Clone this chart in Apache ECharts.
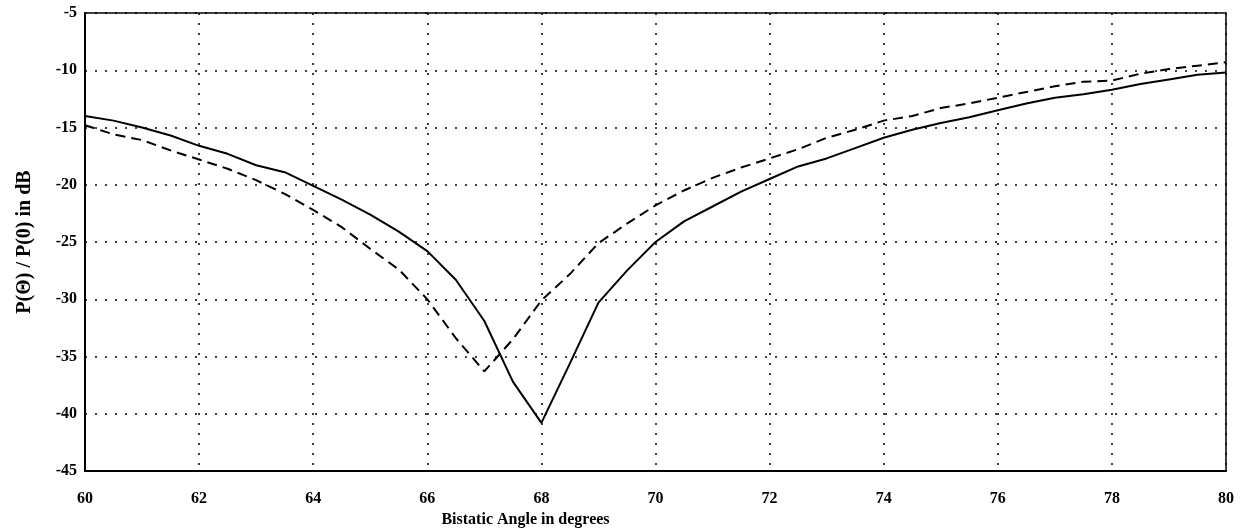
<!DOCTYPE html>
<html>
<head>
<meta charset="utf-8">
<script src="https://cdn.jsdelivr.net/npm/echarts@6/dist/echarts.min.js"></script>
<style>
html,body{margin:0;padding:0;background:#fff;}
#container{width:1245px;height:530px;}
</style>
</head>
<body>
<div id="container"></div>
<script type="text/javascript">
// bistatic angle samples (degrees)
var angles = [60, 60.5, 61, 61.5, 62, 62.5, 63, 63.5, 64, 64.5, 65, 65.5, 66, 66.5, 67, 67.5, 68, 68.5, 69, 69.5,
	70, 70.5, 71, 71.5, 72, 72.5, 73, 73.5, 74, 74.5, 75, 75.5, 76, 76.5, 77, 77.5, 78, 78.5, 79, 79.5, 80];
// solid curve (dB)
var solidVals = [-14.0, -14.4, -15.0, -15.7, -16.6, -17.3, -18.3, -18.9, -20.1, -21.3, -22.6, -24.1, -25.8, -28.3, -31.9, -37.2, -40.8, -35.6, -30.3, -27.5,
	-25.0, -23.2, -21.9, -20.6, -19.5, -18.4, -17.7, -16.8, -15.9, -15.2, -14.6, -14.1, -13.5, -12.9, -12.4, -12.1, -11.7, -11.2, -10.8, -10.4, -10.2];
// dashed curve (dB)
var dashedVals = [-14.8, -15.6, -16.1, -17.0, -17.8, -18.6, -19.6, -20.8, -22.2, -23.7, -25.6, -27.4, -30.0, -33.4, -36.3, -33.5, -30.1, -27.8, -25.1, -23.4,
	-21.8, -20.5, -19.4, -18.5, -17.7, -16.9, -15.9, -15.2, -14.4, -14.0, -13.3, -12.9, -12.4, -11.9, -11.4, -11.0, -10.9, -10.3, -9.9, -9.6, -9.3];

function pairs(xs, ys) {
	var out = [];
	for (var i = 0; i < xs.length; i++) out.push([xs[i], ys[i]]);
	return out;
}

var font = '"Liberation Serif", "DejaVu Serif", serif';
var gridDots = {show: true, lineStyle: {color: '#000', width: 1.5, type: [2, 8]}};

var myChart = echarts.init(document.getElementById('container'));
var option = {
	animation: false,
	backgroundColor: '#fff',
	grid: {left: 85, right: 19, top: 13, bottom: 59, show: true, borderColor: '#000', borderWidth: 1.5, outerBoundsMode: 'none', containLabel: false},
	xAxis: {
		type: 'value',
		min: 60, max: 80, interval: 2,
		name: 'Bistatic Angle in degrees',
		nameLocation: 'middle',
		nameGap: 39,
		nameTextStyle: {fontFamily: font, fontWeight: 'bold', fontSize: 16, color: '#000', padding: [0, 260, 0, 0]},
		axisLine: {lineStyle: {color: '#000', width: 2}},
		axisTick: {show: false},
		axisLabel: {fontFamily: font, fontWeight: 'bold', fontSize: 16, color: '#000', margin: 20},
		splitLine: gridDots
	},
	yAxis: {
		type: 'value',
		min: -45, max: -5, interval: 5,
		name: 'P(Θ) / P(0) in dB',
		nameLocation: 'middle',
		nameGap: 50,
		nameTextStyle: {fontFamily: font, fontWeight: 'bold', fontSize: 20, color: '#000'},
		axisLine: {lineStyle: {color: '#000', width: 2}},
		axisTick: {show: false},
		axisLabel: {fontFamily: font, fontWeight: 'bold', fontSize: 16, color: '#000', margin: 8},
		splitLine: gridDots
	},
	series: [
		{
			name: 'solid',
			type: 'line',
			showSymbol: false,
			lineStyle: {color: '#000', width: 2},
			data: pairs(angles, solidVals)
		},
		{
			name: 'dashed',
			type: 'line',
			showSymbol: false,
			lineStyle: {color: '#000', width: 2, type: [10, 6]},
			data: pairs(angles, dashedVals)
		}
	]
};
myChart.setOption(option);
</script>
</body>
</html>
